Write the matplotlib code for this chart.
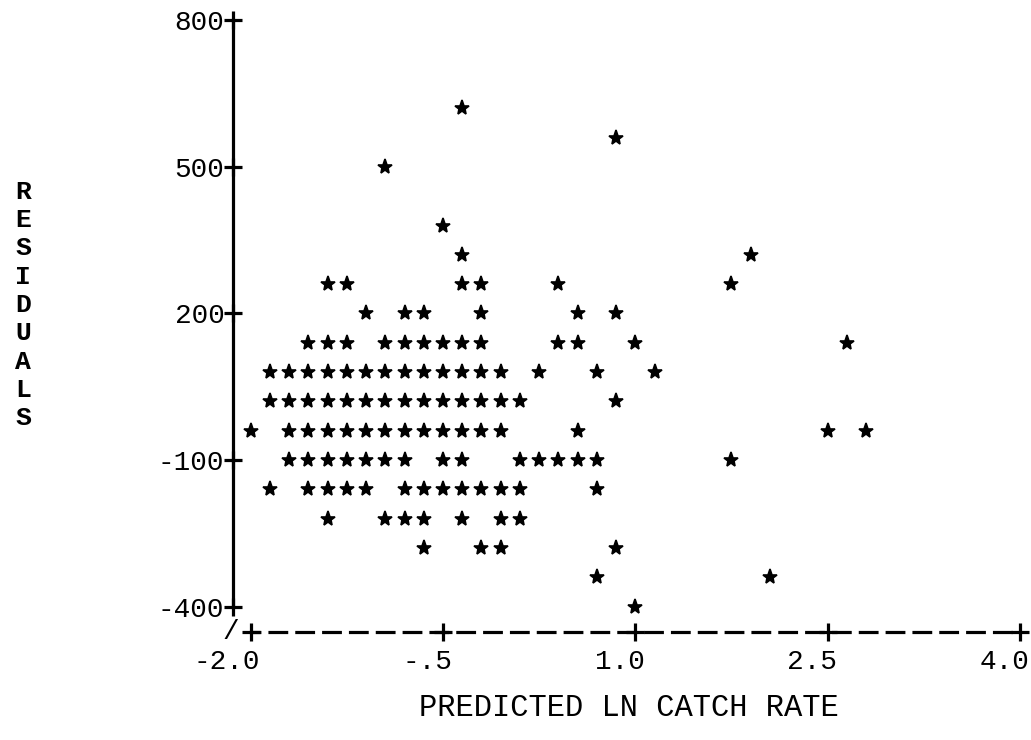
import numpy as np
import matplotlib
matplotlib.use("Agg")
import matplotlib.pyplot as plt
from matplotlib.transforms import ScaledTranslation

plt.rcParams['font.family'] = ['Liberation Mono', 'DejaVu Sans Mono']

# residual levels (one printer line each) and the predicted values plotted on that line
resid_levels = [620, 560, 500, 380, 320, 260, 200, 140, 80, 20,
                -40, -100, -160, -220, -280, -340, -400]
pred_by_level = [
    [-0.35],
    [0.85],
    [-0.95],
    [-0.5],
    [-0.35, 1.9],
    [-1.4, -1.25, -0.35, -0.2, 0.4, 1.75],
    [-1.1, -0.8, -0.65, -0.2, 0.55, 0.85],
    [-1.55, -1.4, -1.25, -0.95, -0.8, -0.65, -0.5, -0.35, -0.2, 0.4, 0.55, 1.0, 2.65],
    [-1.85, -1.7, -1.55, -1.4, -1.25, -1.1, -0.95, -0.8, -0.65, -0.5, -0.35, -0.2,
     -0.05, 0.25, 0.7, 1.15],
    [-1.85, -1.7, -1.55, -1.4, -1.25, -1.1, -0.95, -0.8, -0.65, -0.5, -0.35, -0.2,
     -0.05, 0.1, 0.85],
    [-2.0, -1.7, -1.55, -1.4, -1.25, -1.1, -0.95, -0.8, -0.65, -0.5, -0.35, -0.2,
     -0.05, 0.55, 2.5, 2.8],
    [-1.7, -1.55, -1.4, -1.25, -1.1, -0.95, -0.8, -0.5, -0.35, 0.1, 0.25, 0.4, 0.55,
     0.7, 1.75],
    [-1.85, -1.55, -1.4, -1.25, -1.1, -0.8, -0.65, -0.5, -0.35, -0.2, -0.05, 0.1, 0.7],
    [-1.4, -0.95, -0.8, -0.65, -0.35, -0.05, 0.1],
    [-0.65, -0.2, -0.05, 0.85],
    [0.7, 2.05],
    [1.0],
]

x_ticks = [-2.0, -0.5, 1.0, 2.5, 4.0]
x_tick_labels = ['-2.0', '-.5', '1.0', '2.5', '4.0']
y_ticks = [-400, -100, 200, 500, 800]

pred = np.concatenate([np.array(p) for p in pred_by_level])
resid = np.concatenate([np.full(len(p), r) for p, r in zip(pred_by_level, resid_levels)])

W, H = 1031, 740
fig = plt.figure(figsize=(W / 100, H / 100), dpi=100)
ax = fig.add_axes([218.65 / W, (H - 640.7) / H, 811.5 / W, 634.9 / H])
ax.set_xlim(-2.25, 4.08)
ax.set_ylim(-470, 830)

ax.plot(pred, resid, linestyle='none', marker='*', ms=11, mew=1.2,
        color='black', mfc='black', mec='black')

FS = 20
lw = 2.3
x_axis_at = -452
y_axis_at = -2.14

# axes drawn like a line-printer plot
for s in ('top', 'right'):
    ax.spines[s].set_visible(False)
ax.spines['left'].set_position(('data', y_axis_at))
ax.spines['left'].set_bounds(-400, 800)
ax.spines['left'].set_linewidth(lw)
ax.spines['bottom'].set_position(('data', x_axis_at))
ax.spines['bottom'].set_bounds(-2.0, 4.0)
ax.spines['bottom'].set_linewidth(lw)
ax.spines['bottom'].set_linestyle((2.6, (5.2, 3.2)))

# '+' marks where the ticks sit
ax.plot(x_ticks, [x_axis_at] * len(x_ticks), linestyle='none', marker='+',
        ms=13, mew=lw, color='black', clip_on=False)
ax.plot([y_axis_at] * len(y_ticks), y_ticks, linestyle='none', marker='+',
        ms=13, mew=lw, color='black', clip_on=False)

ax.set_xticks(x_ticks)
ax.set_xticklabels(x_tick_labels)
ax.set_yticks(y_ticks)
ax.set_yticklabels([str(v) for v in y_ticks])
ax.tick_params(axis='both', length=0, labelsize=FS, colors='black')
ax.tick_params(axis='x', pad=12)
ax.tick_params(axis='y', pad=6)

offset = ScaledTranslation(7 / 72, 0, fig.dpi_scale_trans)
for lbl in ax.get_xticklabels():
    lbl.set_ha('right')
    lbl.set_transform(lbl.get_transform() + offset)

ax.text(-2.155, x_axis_at, '/', ha='center', va='center', fontsize=FS)

ax.set_xlabel('PREDICTED LN CATCH RATE', fontsize=22)
ax.xaxis.set_label_coords(0.5057, -0.106)
ax.xaxis.label.set_va('center')

fig.text(23 / W, 1 - 305 / H, '\n'.join('RESIDUALS'), ha='center', va='center',
         fontsize=19, fontweight='bold', linespacing=1.23)

fig.savefig('out.png', dpi=100)
